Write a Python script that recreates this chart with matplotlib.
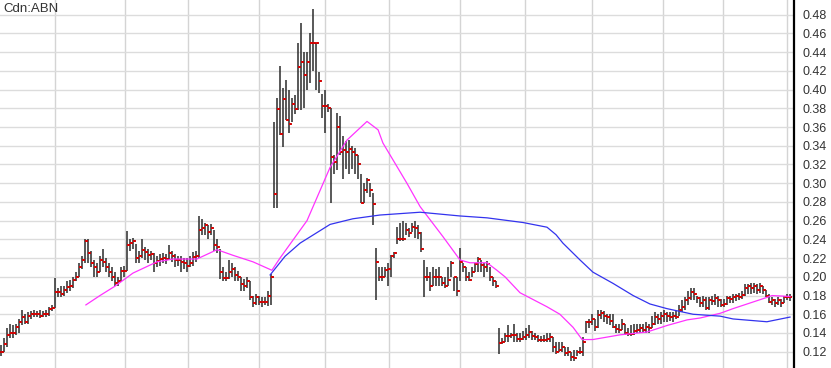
import numpy as np
import matplotlib.pyplot as plt

plt.rcParams['font.family'] = ['Liberation Sans', 'DejaVu Sans']

symbol = "Cdn:ABN"

# daily closes, highs and lows (one value per trading day)
close = [.120, .128, .138, .140, .140, .146, .152, .157, .152, .158,
         .160, .160, .160, .158, .160, .160, .166, .167, .184, .184,
         .182, .186, .189, .190, .197, .200, .210, .218, .238, .225,
         .215, .210, .205, .218, .216, .210, .205, .200, .193, .195,
         .206, .206, .234, .236, .238, .220, .222, .229, .226, .223,
         .224, .215, .217, .219, .220, .219, .225, .222, .218, .218,
         .216, .215, .212, .215, .221, .222, .250, .252, .255, .248,
         .252, .234, .232, .205, .199, .199, .205, .208, .202, .200,
         .192, .190, .195, .178, .172, .178, .173, .173, .173, .180,
         .200, .289, .379, .353, .390, .368, .363, .385, .379, .424,
         .430, .416, .430, .450, .450, .450, .409, .383, .383, .380,
         .328, .323, .360, .333, .335, .333, .337, .333, .330, .321,
         .279, .293, .303, .293, .278, .216, .200, .200, .207, .208,
         .222, .225, .240, .240, .240, .250, .247, .253, .252, .247,
         .230, .200, .200, .190, .200, .200, .200, .193, .190, .197,
         .215, .200, .185, .216, .210, .200, .197, .205, .214, .219,
         .213, .210, .214, .200, .196, .190, .129, .130, .137, .137,
         .138, .138, .134, .134, .136, .138, .141, .137, .136, .133,
         .132, .132, .134, .136, .125, .120, .122, .125, .119, .120,
         .114, .113, .120, .120, .130, .152, .152, .155, .146, .159,
         .161, .158, .157, .153, .146, .144, .143, .150, .140, .139,
         .139, .142, .143, .145, .143, .146, .145, .150, .157, .155,
         .158, .160, .158, .157, .158, .157, .165, .168, .175, .177,
         .184, .182, .177, .172, .175, .167, .175, .174, .177, .175,
         .170, .171, .177, .176, .178, .180, .178, .181, .188, .190,
         .188, .190, .186, .190, .186, .180, .173, .175, .172, .175,
         .172, .178, .178, .178]

high = [.127, .135, .145, .150, .148, .150, .155, .165, .160, .162,
        .163, .165, .163, .165, .163, .165, .168, .170, .199, .188,
        .190, .190, .195, .197, .200, .205, .215, .222, .240, .240,
        .228, .218, .215, .222, .230, .220, .215, .210, .205, .200,
        .210, .212, .249, .240, .242, .235, .228, .240, .232, .230,
        .228, .225, .222, .224, .225, .224, .234, .228, .224, .222,
        .222, .220, .220, .222, .226, .228, .265, .262, .258, .255,
        .256, .250, .240, .230, .210, .205, .218, .215, .210, .206,
        .200, .198, .200, .195, .180, .182, .180, .178, .178, .185,
        .203, .365, .391, .425, .402, .410, .400, .391, .394, .450,
        .471, .440, .440, .460, .486, .450, .419, .395, .400, .385,
        .380, .330, .375, .372, .350, .345, .346, .340, .338, .330,
        .310, .300, .306, .300, .290, .231, .210, .210, .210, .215,
        .223, .226, .253, .258, .260, .258, .252, .258, .260, .255,
        .248, .218, .210, .205, .210, .208, .210, .200, .200, .210,
        .217, .200, .200, .231, .215, .210, .205, .210, .215, .221,
        .218, .215, .217, .210, .200, .195, .145, .135, .140, .148,
        .140, .150, .140, .140, .142, .145, .148, .142, .140, .138,
        .137, .138, .140, .140, .136, .130, .130, .130, .125, .125,
        .120, .122, .122, .125, .136, .153, .155, .160, .155, .165,
        .165, .163, .160, .160, .160, .150, .150, .155, .150, .145,
        .148, .150, .150, .150, .150, .152, .150, .158, .162, .160,
        .162, .165, .162, .162, .162, .163, .170, .175, .178, .185,
        .188, .188, .180, .178, .180, .178, .178, .180, .182, .180,
        .176, .176, .180, .180, .182, .182, .183, .185, .192, .192,
        .193, .193, .192, .193, .190, .186, .182, .178, .176, .178,
        .176, .180, .182, .182]

low = [.115, .120, .125, .135, .135, .138, .140, .148, .150, .150,
       .155, .157, .157, .156, .157, .157, .158, .163, .167, .178,
       .178, .180, .183, .185, .188, .195, .200, .208, .215, .215,
       .210, .200, .200, .205, .210, .205, .200, .195, .190, .190,
       .195, .200, .206, .228, .230, .215, .215, .220, .218, .215,
       .218, .205, .210, .212, .215, .214, .218, .216, .210, .212,
       .205, .208, .205, .210, .212, .216, .220, .245, .245, .240,
       .245, .228, .225, .198, .195, .195, .198, .200, .195, .195,
       .185, .185, .188, .175, .168, .170, .170, .168, .170, .169,
       .170, .274, .274, .351, .339, .367, .354, .365, .374, .378,
       .378, .380, .400, .407, .420, .400, .396, .370, .354, .376,
       .279, .310, .314, .330, .304, .315, .310, .315, .310, .305,
       .279, .279, .290, .285, .255, .175, .195, .195, .200, .190,
       .200, .220, .235, .238, .238, .245, .243, .248, .242, .240,
       .226, .178, .195, .185, .190, .190, .190, .190, .188, .190,
       .200, .185, .180, .195, .205, .195, .195, .200, .205, .205,
       .205, .200, .205, .195, .190, .188, .118, .128, .130, .130,
       .135, .130, .130, .130, .132, .133, .135, .133, .132, .130,
       .130, .130, .130, .130, .120, .118, .120, .120, .115, .115,
       .110, .110, .115, .118, .115, .140, .145, .148, .142, .145,
       .155, .152, .150, .148, .145, .140, .140, .143, .138, .137,
       .137, .138, .140, .140, .140, .140, .140, .145, .148, .150,
       .150, .152, .152, .153, .152, .155, .158, .162, .165, .170,
       .175, .175, .172, .168, .168, .165, .165, .170, .170, .168,
       .168, .168, .170, .172, .172, .174, .175, .176, .180, .182,
       .182, .183, .182, .183, .182, .178, .172, .170, .168, .170,
       .168, .172, .175, .174]

# moving averages (bar index, price)
ma_short_x = [28.3, 33, 38, 44, 52, 57.3, 65.3, 72, 77.3, 84, 90.3, 93, 102,
              109.7, 115.3, 122, 125.7, 127.3, 135.3, 139.7, 147.3, 153, 156.3,
              162, 165.3, 168, 173, 182, 186.3, 190.7, 193.7, 197.3, 206.3,
              215.3, 222, 228.7, 233, 239.7, 244, 255.3, 257, 263]
ma_short_y = [.170, .180, .190, .204, .216, .219, .219, .229, .223, .216, .207,
              .220, .260, .317, .346, .366, .357, .343, .300, .275, .243, .218,
              .215, .215, .207, .200, .183, .168, .160, .146, .133, .133, .138,
              .141, .148, .154, .156, .161, .166, .178, .180, .179]

ma_long_x = [89.7, 94.7, 99.7, 109.7, 117.3, 126.3, 139.7, 153, 162, 174, 182,
             185, 187.3, 193, 197.3, 204, 210.7, 216.3, 222, 230.7, 239.7, 244,
             255.3, 263]
ma_long_y = [.202, .222, .236, .256, .262, .266, .269, .265, .263, .258, .253,
             .245, .236, .218, .205, .193, .180, .171, .166, .160, .158, .155,
             .152, .157]

# first trading day of each month (vertical grid)
month_starts = [18, 41.5, 62.5, 86, 108, 129.5, 153, 174.5, 197, 220.5, 240.5, 262]
price_ticks = [0.12, 0.14, 0.16, 0.18, 0.20, 0.22, 0.24, 0.26, 0.28, 0.30,
               0.32, 0.34, 0.36, 0.38, 0.40, 0.42, 0.44, 0.46, 0.48]

fig = plt.figure(figsize=(8.31, 3.68), dpi=100)
ax = fig.add_axes([0, 0, 794 / 831, 1])

idx = np.arange(len(close))
opn = [close[0]] + close[:-1]

for m in month_starts:
    ax.axvline(m, color='#d4d4d4', lw=1.0, zorder=0)
for p in price_ticks:
    ax.axhline(p, color='#dcdcdc', lw=1.0, zorder=0)

ax.plot(ma_short_x, ma_short_y, color='#ff33ff', lw=0.9, zorder=3)
ax.plot(ma_long_x, ma_long_y, color='#3333ee', lw=0.9, zorder=3)

ax.vlines(idx, low, high, color='#333333', lw=1.15, zorder=2)
ax.hlines(opn, idx - 0.6, idx, color='#c80000', lw=1.3, zorder=2)
ax.hlines(close, idx, idx + 0.6, color='#e00000', lw=1.3, zorder=2)

ax.set_xlim(-0.33, 264.33)
ax.set_ylim(0.1026, 0.4957)
ax.set_xticks([])
ax.set_yticks(price_ticks)
ax.set_yticklabels(['%.2f' % p for p in price_ticks])
ax.yaxis.tick_right()
ax.tick_params(axis='y', length=0, pad=6, labelsize=9, labelcolor='#333333')
for s in ['top', 'left', 'bottom']:
    ax.spines[s].set_visible(False)
ax.spines['right'].set_linewidth(1.6)
ax.spines['right'].set_color('black')

ax.text(0.004, 0.993, symbol, transform=ax.transAxes, ha='left', va='top',
        fontsize=9.5, color='#333333')

fig.savefig('out.png', dpi=100)
